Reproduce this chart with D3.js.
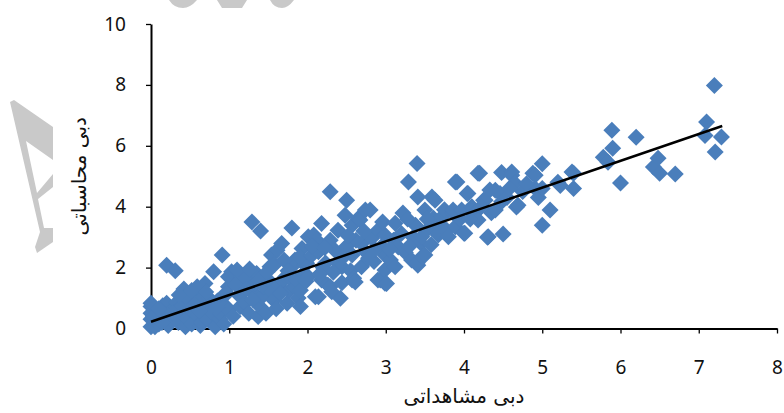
<!DOCTYPE html>
<html lang="fa">
<meta charset="utf-8">
<title>دبی مشاهداتی / محاسباتی</title>
<script src="https://d3js.org/d3.v7.min.js"></script>
<style>
  body { margin: 0; background: #fff; }
  .axis text { font-family: "Noto Sans", "Open Sans", sans-serif; font-size: 19px; fill: #111; }
  .axis line { stroke: #000; stroke-width: 1.3; }
  .axis .domain { stroke: #000; stroke-width: 2; }
  .title { font-family: "DejaVu Sans", sans-serif; font-size: 20px; fill: #111; }
</style>
<svg width="784" height="413"></svg>
<script>
var pts0to1 = [[0,0.06],[0,0.3],[0,0.5],[0,0.72],[0,0.83],[0.05,0.06],[0.05,0.28],[0.08,0.6],[0.1,0.15],[0.12,0.45],
  [0.15,0.75],[0.18,0.3],[0.2,0.83],[0.2,2.08],[0.22,0.1],[0.25,0.55],[0.27,0.28],[0.31,0.72],[0.31,1.9],[0.33,0.85],
  [0.35,0.2],[0.38,0.5],[0.42,1.3],[0.44,0.06],[0.46,0.3],[0.48,0.93],[0.5,0.65],[0.52,0.15],[0.55,1.1],[0.57,0.83],
  [0.59,1.37],[0.6,0.4],[0.63,0.1],[0.65,0.2],[0.67,1.04],[0.69,1.48],[0.7,0.7],[0.72,0.3],[0.76,0.6],[0.78,0.5],
  [0.8,1.86],[0.82,0.06],[0.85,0.9],[0.88,0.3],[0.89,0.5],[0.91,2.41],[0.91,1.04],[0.93,0.15],[0.95,0.75],[0.99,0.61],
  [0.99,1.37],[0.99,1.7],[0.03,0.4],[0.1,0.65],[0.14,0.2],[0.28,0.5],[0.4,0.75],[0.44,1.05],[0.62,0.6],[0.74,1.0],
  [0.84,0.7],[0.97,1.15],[0.36,1.1],[0.52,1.25],[0.7,1.2]];
var pts1to2 = [[1.03,1.86],[1.05,0.4],[1.1,1.92],[1.12,1.1],[1.14,0.72],[1.16,1.37],[1.16,1.7],[1.2,0.83],[1.23,1.7],[1.25,0.5],
  [1.29,3.5],[1.3,1.2],[1.33,1.48],[1.35,1.81],[1.37,0.39],[1.4,3.2],[1.4,0.7],[1.42,1.04],[1.44,1.37],[1.47,0.5],
  [1.5,1.59],[1.52,2.03],[1.54,2.41],[1.55,1.2],[1.57,0.93],[1.6,0.65],[1.61,2.57],[1.63,1.4],[1.67,2.79],[1.69,1.59],
  [1.72,1.7],[1.74,0.83],[1.77,1.25],[1.8,3.3],[1.8,2.03],[1.8,1.59],[1.84,1.37],[1.84,2.25],[1.86,1.59],[1.88,1.0],
  [1.91,1.26],[1.91,0.72],[1.93,2.63],[1.97,2.08],[1.99,2.14],[1.95,1.8],[1.08,1.45],[1.22,1.3],[1.3,0.95],[1.38,1.6],
  [1.48,1.85],[1.58,2.1],[1.65,1.15],[1.7,2.25],[1.75,1.9],[1.9,2.35],[1.98,1.55],[1.26,1.95]];
var pts2to3 = [[2.01,3.01],[2.01,1.7],[2.05,2.4],[2.08,3.07],[2.1,1.04],[2.12,2.9],[2.14,2.52],[2.14,1.04],[2.18,3.45],[2.18,1.59],
  [2.2,2.0],[2.23,2.15],[2.26,1.43],[2.29,4.49],[2.29,2.9],[2.29,1.37],[2.31,1.21],[2.35,2.57],[2.39,3.23],[2.39,2.15],
  [2.42,0.99],[2.44,2.03],[2.44,1.5],[2.48,3.72],[2.5,4.21],[2.5,2.7],[2.55,1.9],[2.57,3.39],[2.57,2.41],[2.57,1.59],
  [2.59,1.65],[2.61,1.53],[2.65,3.62],[2.67,3.56],[2.69,2.79],[2.69,2.03],[2.74,3.89],[2.75,2.5],[2.78,2.31],[2.8,3.89],
  [2.82,2.96],[2.85,2.2],[2.9,3.23],[2.9,1.59],[2.93,1.59],[2.95,2.7],[2.99,3.07],[2.99,2.41],[2.99,1.92],[2.99,1.49],
  [2.06,2.7],[2.22,2.65],[2.33,1.85],[2.46,2.35],[2.62,2.9],[2.72,3.2],[2.86,2.6],[2.96,3.5],[2.16,1.8],[2.52,3.05]];
var pts3to4 = [[3.01,1.48],[3.06,2.25],[3.1,2.9],[3.12,3.46],[3.12,2.03],[3.16,2.68],[3.2,3.12],[3.22,3.79],[3.25,2.5],[3.29,4.81],
  [3.33,2.25],[3.35,3.0],[3.38,3.39],[3.4,5.42],[3.41,4.32],[3.41,2.08],[3.4,2.15],[3.45,2.8],[3.46,3.01],[3.46,2.35],
  [3.5,3.89],[3.5,2.41],[3.55,3.3],[3.59,4.32],[3.61,3.62],[3.63,4.21],[3.63,3.46],[3.67,3.13],[3.67,3.07],[3.72,3.67],
  [3.75,3.9],[3.78,3.23],[3.8,3.01],[3.86,3.79],[3.86,3.89],[3.89,4.81],[3.89,3.34],[3.91,4.81],[3.95,3.6],[3.97,3.89],
  [3.05,2.6],[3.28,3.6],[3.3,2.7],[3.53,3.6],[3.7,3.4],[3.58,2.75]];
var pts4to5 = [[4.0,3.13],[4.01,3.13],[4.04,4.43],[4.05,4.43],[4.1,4.0],[4.14,3.79],[4.18,5.1],[4.18,3.56],[4.2,5.1],[4.25,4.21],
  [4.27,4.21],[4.3,3.0],[4.31,3.01],[4.35,3.8],[4.4,4.54],[4.4,3.89],[4.46,4.43],[4.48,5.12],[4.48,4.16],[4.5,3.1],
  [4.55,4.3],[4.61,5.14],[4.61,5.03],[4.65,4.77],[4.67,3.99],[4.69,4.05],[4.75,4.5],[4.88,5.1],[4.91,5.03],[4.91,4.6],
  [4.95,4.3],[5.0,5.41],[5.0,4.6],[5.0,3.39],[5.1,3.89],[5.2,4.8],[5.23,4.7],[5.38,5.14],[5.4,5.1],[5.4,4.6],
  [4.08,3.6],[4.22,4.0],[4.33,4.55],[4.58,4.6],[4.8,4.75]];
var pts5up = [[5.78,5.62],[5.84,5.46],[5.89,6.51],[5.9,5.92],[6.0,4.78],[6.2,6.28],[6.42,5.3],[6.48,5.59],[6.5,5.1],[6.7,5.07],
  [7.08,6.34],[7.1,6.78],[7.2,7.98],[7.21,5.8],[7.29,6.29]];

// linear trend line ends
var trendX = [0, 7.3];
var trendY = [0.22, 6.65];

var xTicks = [0, 1, 2, 3, 4, 5, 6, 7, 8];
var yTicks = [0, 2, 4, 6, 8, 10];
var xTitle = "دبی مشاهداتی";
var yTitle = "دبی محاسباتی";

var svg = d3.select("svg");
var x = d3.scaleLinear().domain([0, 8]).range([151, 777]);
var y = d3.scaleLinear().domain([0, 10]).range([328.5, 24]);

// faint watermark shapes from the source page
svg.append("path")
  .attr("d", "M10,102 L14,100 L53,127 L53,160 L26,141 L37,193 L53,174 L53,187 L38,199 L44,228 L53,228 L53,242 L37,253 L35,247 L40,232 Z")
  .attr("fill", "#c9c9c9");
svg.append("path")
  .attr("d", "M169,0 L197,0 Q190,8 183,8 Q174,8 169,0 Z M217,0 L247,0 L242,8 L222,8 Z M270,0 L294,0 Q288,8 282,8 Q274,8 270,0 Z")
  .attr("fill", "#c9c9c9");

var gx = svg.append("g")
  .attr("class", "axis")
  .attr("transform", "translate(0," + y(0) + ")")
  .call(d3.axisBottom(x).tickValues(xTicks).tickSize(5).tickSizeOuter(0).tickPadding(27).tickFormat(d3.format("d")));

var gy = svg.append("g")
  .attr("class", "axis")
  .attr("transform", "translate(" + x(0) + ",0)")
  .call(d3.axisLeft(y).tickValues(yTicks).tickSize(5).tickSizeOuter(0).tickPadding(20).tickFormat(d3.format("d")));

var all = pts0to1.concat(pts1to2, pts2to3, pts3to4, pts4to5, pts5up);
var r = 8.5;
svg.append("g")
  .selectAll("path")
  .data(all)
  .enter().append("path")
    .attr("d", function(d) {
      var cx = x(d[0]), cy = y(d[1]);
      return "M" + cx + "," + (cy - r) + "L" + (cx + r) + "," + cy + "L" + cx + "," + (cy + r) + "L" + (cx - r) + "," + cy + "Z";
    })
    .attr("fill", "#4a7ebb");

svg.append("path")
  .datum(d3.zip(trendX, trendY))
  .attr("d", d3.line().x(function(d) { return x(d[0]); }).y(function(d) { return y(d[1]); }))
  .attr("stroke", "#000")
  .attr("stroke-width", 2.5)
  .attr("fill", "none");

svg.append("text")
  .attr("class", "title")
  .attr("x", (x(0) + x(8)) / 2)
  .attr("y", 403)
  .attr("text-anchor", "middle")
  .text(xTitle);

svg.append("text")
  .attr("class", "title")
  .attr("transform", "translate(86," + (y(0) + y(10)) / 2 + ") rotate(-90)")
  .attr("text-anchor", "middle")
  .text(yTitle);
</script>
</html>
